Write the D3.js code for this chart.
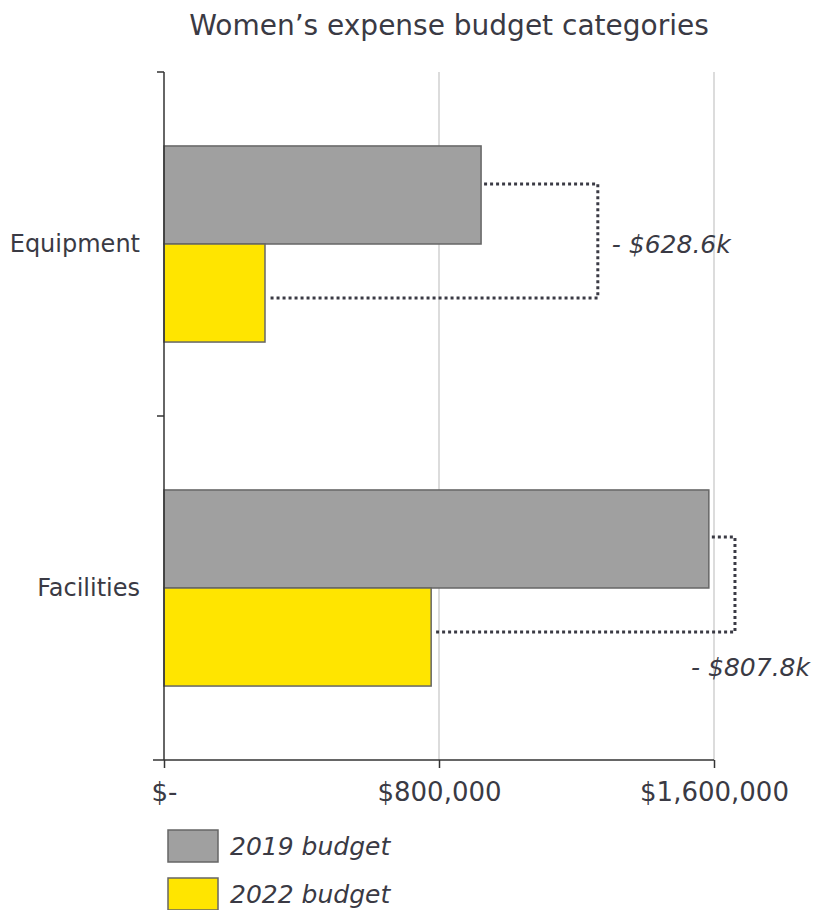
<!DOCTYPE html>
<html><head><meta charset="utf-8">
<script src="https://cdn.jsdelivr.net/npm/d3@7"></script>
<style>body{margin:0;background:#fff}svg{display:block}text{font-family:"DejaVu Sans",sans-serif;fill:#3a3a44}</style>
</head><body>
<script>
const categories = ["Equipment", "Facilities"];
const seriesNames = ["2019 budget", "2022 budget"];
const budget2019 = [922400, 1585000];
const budget2022 = [293800, 777200];
const bracketX = [1262000, 1661000];
const xTicks = [0, 800000, 1600000];
const colors = ["#a0a0a0", "#ffe500"];

const W = 814, H = 910;
const svg = d3.select("body").append("svg").attr("width", W).attr("height", H);

const x = d3.scaleLinear().domain([0, 1600000]).range([164, 714]);
const y = d3.scaleBand().domain(categories).range([72, 760]);
const ys = d3.scaleBand().domain(seriesNames).range([y.bandwidth()*0.215, y.bandwidth()*0.785]);

svg.append("text").attr("x", 449).attr("y", 35).attr("text-anchor","middle")
  .style("font-size","28px").text("Women\u2019s expense budget categories");

// gridlines
svg.append("g").selectAll("line").data(xTicks.filter(d=>d>0)).join("line")
  .attr("x1", d=>x(d)).attr("x2", d=>x(d)).attr("y1", 72).attr("y2", 760)
  .attr("stroke", "#dcdcdc").attr("stroke-width", 2);

// bars
const data = [];
categories.forEach((c,i)=>{
  data.push({c, s:seriesNames[0], v:budget2019[i], col:colors[0]});
  data.push({c, s:seriesNames[1], v:budget2022[i], col:colors[1]});
});
svg.append("g").selectAll("rect").data(data).join("rect")
  .attr("x", x(0)).attr("y", d=>y(d.c)+ys(d.s))
  .attr("width", d=>x(d.v)-x(0)).attr("height", ys.bandwidth())
  .attr("fill", d=>d.col).attr("stroke", "#666").attr("stroke-width", 1.5);

// x axis
const xAxis = d3.axisBottom(x).tickValues(xTicks).tickSize(8).tickPadding(15)
  .tickFormat(d => d===0 ? "$-" : "$" + d3.format(",")(d));
const gx = svg.append("g").attr("transform","translate(0,760)").call(xAxis);
gx.select(".domain").remove();
gx.selectAll(".tick line").attr("stroke","#333").attr("stroke-width",1.5);
gx.selectAll("text").style("font-size","26px").attr("fill","#3a3a44")
  .style("font-family","'DejaVu Sans',sans-serif");
svg.append("line").attr("x1",153).attr("x2",714).attr("y1",760).attr("y2",760).attr("stroke","#333").attr("stroke-width",1.5);

// y axis
svg.append("line").attr("x1",164).attr("x2",164).attr("y1",72).attr("y2",760).attr("stroke","#333").attr("stroke-width",1.5);
const yb = [72, y(categories[1])];
svg.append("g").selectAll("line").data(yb).join("line")
  .attr("x1",157).attr("x2",164).attr("y1",d=>d).attr("y2",d=>d).attr("stroke","#333").attr("stroke-width",1.5);
svg.append("g").selectAll("text").data(categories).join("text")
  .attr("x",140).attr("y",d=>y(d)+y.bandwidth()/2).attr("dy","0.35em").attr("text-anchor","end")
  .style("font-size","24px").text(d=>d);

// brackets
const fmtK = d => "- $" + (d/1000).toFixed(1) + "k";
categories.forEach((c,i)=>{
  const cy = y(c)+y.bandwidth()/2;
  const ya = i===0 ? cy - 60 : cy - 51;
  const yb2 = i===0 ? cy + 54 : cy + 44;
  const p = d3.path();
  p.moveTo(x(budget2019[i])+3, ya);
  p.lineTo(x(bracketX[i]), ya);
  p.lineTo(x(bracketX[i]), yb2);
  p.lineTo(x(budget2022[i])+3, yb2);
  svg.append("path").attr("d", p.toString()).attr("fill","none")
    .attr("stroke","#3a3a44").attr("stroke-width",3).attr("stroke-dasharray","3,3");
  const diff = budget2019[i]-budget2022[i];
  if (i===0) {
    svg.append("text").attr("x", x(bracketX[i])+14).attr("y", cy).attr("dy","0.35em")
      .style("font-size","25px").style("font-style","italic").text(fmtK(diff));
  } else {
    svg.append("text").attr("x", 810).attr("y", cy+79).attr("dy","0.35em").attr("text-anchor","end")
      .style("font-size","25px").style("font-style","italic").text(fmtK(diff));
  }
});

// legend
const lg = svg.append("g").selectAll("g").data(seriesNames).join("g")
  .attr("transform",(d,i)=>`translate(168,${830+i*48})`);
lg.append("rect").attr("width",50).attr("height",32).attr("fill",(d,i)=>colors[i])
  .attr("stroke","#666").attr("stroke-width",1.5);
lg.append("text").attr("x",62).attr("y",16).attr("dy","0.35em")
  .style("font-size","25px").style("font-style","italic").text(d=>d);
</script>
</body></html>
